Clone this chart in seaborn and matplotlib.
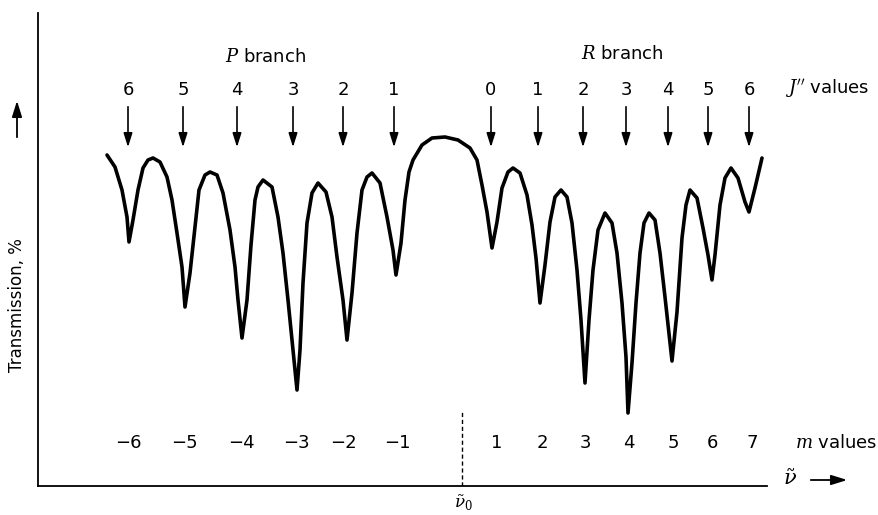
import matplotlib
matplotlib.use("Agg")
import matplotlib.pyplot as plt
import seaborn as sns
import pandas as pd

# ---- data (wavenumber offset from nu0, transmission %) ----
nu = [-35.5, -34.7, -34.0, -33.5, -33.3, -32.9, -32.4, -31.9, -31.4, -30.9,
      -30.2, -29.5, -29.0, -28.5, -28.0, -27.7, -27.2, -26.7, -26.3, -25.7,
      -25.2, -24.5, -23.9, -23.2, -22.7, -22.4, -22.0, -21.5, -21.1, -20.7,
      -20.4, -19.9, -19.0, -18.4, -17.9, -17.4, -16.9, -16.5, -16.2, -15.9,
      -15.5, -15.0, -14.4, -13.6, -13.0, -12.5, -11.9, -11.5, -11.0, -10.5,
      -10.0, -9.5, -9.0, -8.2, -7.5, -6.9, -6.6, -6.1, -5.7, -5.3,
      -4.9, -4.0, -3.0, -1.7, -0.4, 0.8, 1.5, 2.0, 2.5, 3.0,
      3.5, 4.0, 4.6, 5.1, 5.8, 6.5, 7.0, 7.4, 7.8, 8.3,
      8.8, 9.3, 9.9, 10.5, 11.0, 11.5, 11.9, 12.3, 12.7, 13.1,
      13.6, 14.3, 15.0, 15.5, 16.0, 16.4, 16.6, 17.0, 17.4, 17.8,
      18.2, 18.7, 19.3, 19.8, 20.3, 21.0, 21.5, 22.0, 22.4, 22.8,
      23.5, 24.1, 24.6, 25.0, 25.3, 25.8, 26.3, 26.9, 27.6, 28.3,
      28.7, 29.3, 30.0]
transmission = [66.2, 63.8, 59.2, 53.8, 48.8, 53.2, 59.2, 63.6, 65.2, 65.6,
                64.8, 61.8, 57.2, 50.6, 43.8, 35.8, 42.6, 51.8, 59.2, 62.2,
                62.8, 62.2, 58.6, 51.2, 43.8, 37.2, 29.6, 37.2, 48.2, 57.2,
                59.8, 61.2, 59.8, 53.8, 46.6, 37.2, 27.2, 19.2, 27.2, 40.6,
                52.6, 58.6, 60.6, 58.8, 53.8, 45.8, 37.2, 29.2, 38.6, 50.6,
                59.2, 61.8, 62.6, 60.6, 53.8, 47.2, 42.2, 48.6, 57.2, 62.8,
                65.2, 68.2, 69.6, 69.8, 69.2, 67.6, 65.2, 60.2, 54.8, 47.6,
                52.8, 59.6, 62.8, 63.6, 62.6, 58.2, 52.2, 45.6, 36.6, 44.2,
                52.8, 57.8, 59.2, 57.8, 52.6, 43.2, 33.2, 20.6, 33.2, 43.2,
                51.2, 54.6, 52.6, 46.6, 36.6, 25.8, 14.6, 24.6, 36.6, 46.6,
                52.6, 54.6, 53.2, 46.6, 37.8, 25.0, 34.8, 49.6, 56.2, 59.2,
                57.6, 51.6, 46.2, 41.2, 46.2, 56.2, 61.6, 63.6, 61.6, 56.8,
                54.8, 59.6, 65.6]

p_labels = ["6", "5", "4", "3", "2", "1"]
p_arrow_x = [-33.4, -27.9, -22.5, -16.9, -11.9, -6.8]
r_labels = ["0", "1", "2", "3", "4", "5", "6"]
r_arrow_x = [2.9, 7.6, 12.1, 16.4, 20.6, 24.6, 28.7]

m_labels = ["\u22126", "\u22125", "\u22124", "\u22123", "\u22122", "\u22121",
            "1", "2", "3", "4", "5", "6", "7"]
m_x = [-33.4, -27.75, -22.1, -16.6, -11.9, -6.5,
       3.5, 8.0, 12.3, 16.7, 21.1, 25.0, 29.0]

df = pd.DataFrame({"nu": nu, "T": transmission})

sns.set_theme(style="white")
plt.rcParams["font.family"] = ["DejaVu Sans"]
plt.rcParams["mathtext.fontset"] = "dejavuserif"
plt.rcParams["text.color"] = "black"

fig = plt.figure(figsize=(8.79, 5.15), dpi=100)
ax = fig.add_axes([38 / 879, 29 / 515, 729 / 879, 473 / 515])

sns.lineplot(data=df, x="nu", y="T", sort=False, estimator=None,
             color="black", linewidth=2.6, ax=ax)
for ln in ax.lines:
    ln.set_solid_joinstyle("round")
    ln.set_solid_capstyle("round")

ax.set_xlim(-42.4, 30.5)
ax.set_ylim(0, 94.6)
ax.set_xticks([])
ax.set_yticks([])
ax.set_xlabel("")
ax.set_ylabel("")
for s in ["top", "right"]:
    ax.spines[s].set_visible(False)
for s in ["left", "bottom"]:
    ax.spines[s].set_color("black")
    ax.spines[s].set_linewidth(1.3)

arrow_kw = dict(arrowstyle="-|>,head_length=0.7,head_width=0.22",
                color="black", lw=1.2, mutation_scale=12)

# J'' arrows and labels
for lab, x in zip(p_labels + r_labels, p_arrow_x + r_arrow_x):
    ax.annotate("", xy=(x, 67.2), xytext=(x, 76.4), arrowprops=arrow_kw,
                annotation_clip=False)
    ax.text(x, 79.2, lab, ha="center", va="center", fontsize=13, color="black")

# branch titles
ax.text(-19.6, 85.8, "$P$ branch", ha="center", va="center", fontsize=13,
        color="black")
ax.text(16.0, 86.4, "$R$ branch", ha="center", va="center", fontsize=13,
        color="black")
ax.text(32.3, 79.6, "$J''$ values", ha="left", va="center", fontsize=13,
        clip_on=False, color="black")

# m values
for lab, x in zip(m_labels, m_x):
    ax.text(x, 8.6, lab, ha="center", va="center", fontsize=13, color="black")
ax.text(33.3, 8.6, "$m$ values", ha="left", va="center", fontsize=13,
        clip_on=False, color="black")

# nu0 dashed marker
ax.plot([0, 0], [0, 15.2], color="black", lw=1.0, ls=(0, (3, 2)))
ax.text(0.1, -3.4, r"$\tilde{\nu}_0$", ha="center", va="center", fontsize=12,
        clip_on=False, color="black")

# nu axis arrow label
ax.text(32.1, 1.4, r"$\tilde{\nu}$", ha="left", va="center", fontsize=15,
        clip_on=False, color="black")
ax.annotate("", xy=(38.8, 1.2), xytext=(34.6, 1.2),
            arrowprops=dict(arrowstyle="-|>,head_length=0.8,head_width=0.25",
                            color="black", lw=1.3, mutation_scale=12),
            annotation_clip=False)

# y-axis label and arrow
ax.text(-44.5, 36.2, "Transmission, %", rotation=90, ha="center", va="center",
        fontsize=12, clip_on=False, color="black")
ax.annotate("", xy=(-44.5, 77.6), xytext=(-44.5, 69.2),
            arrowprops=dict(arrowstyle="-|>,head_length=0.8,head_width=0.25",
                            color="black", lw=1.3, mutation_scale=12),
            annotation_clip=False)

fig.savefig("out.png", dpi=100)
